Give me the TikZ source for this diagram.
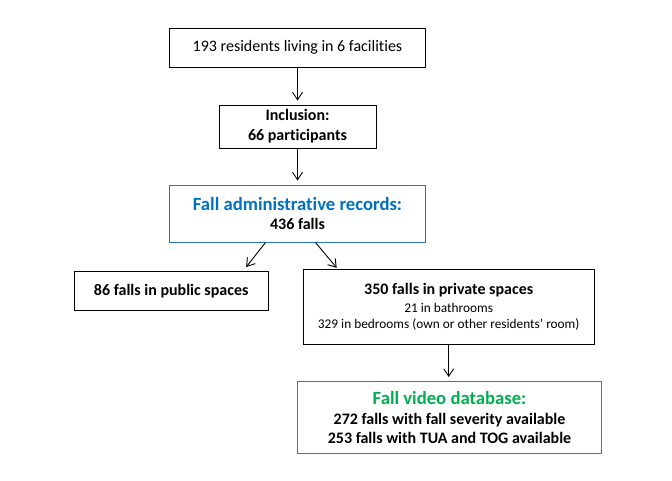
\documentclass[tikz,border=0pt]{standalone}
\usepackage{fontspec}
\setmainfont{Carlito}[RawFeature=-liga]
\usetikzlibrary{arrows.meta}
\definecolor{titleblue}{HTML}{0070C0}
\definecolor{borderblue}{HTML}{2E75B6}
\definecolor{titlegreen}{HTML}{00B050}
\definecolor{bordergreen}{HTML}{00A070}
\tikzset{
  box/.style={draw=black, line width=1pt, inner sep=0pt, align=center,
    font=\fontsize{16}{19.5}\selectfont},
  arr/.style={line width=0.9pt, -{Straight Barb[length=7.5pt,width=10pt,line width=0.9pt]}, shorten >=4pt},
}
\newcommand{\smalltxt}{\fontsize{13.33}{16}\selectfont}
\newcommand{\titletxt}{\fontsize{18.67}{20}\selectfont\bfseries}
\begin{document}
\begin{tikzpicture}[x=1pt,y=-1pt]
\useasboundingbox (0,0) rectangle (672,480);
\node[box, minimum width=256.7pt, minimum height=39pt] (b1) at (297.5,47.5)
  {193 residents living in 6 facilities};
\node[box, minimum width=157pt, minimum height=43pt, font=\fontsize{16}{20}\selectfont\bfseries] (b2) at (297.5,126.5)
  {Inclusion:\\66 participants};
\node[box, draw=borderblue, minimum width=256.5pt, minimum height=57pt] (b3) at (297.5,213.5)
  {{\titletxt\color{titleblue}Fall administrative records:}\\[0pt]\textbf{436 falls}};
\node[box, minimum width=194pt, minimum height=38.8pt, font=\fontsize{16}{19.5}\selectfont\bfseries] (b4) at (171.2,291.1)
  {86 falls in public spaces};
\node[box, minimum width=291pt, minimum height=74.7pt] (b5) at (448.7,306.7)
  {\textbf{350 falls in private spaces}\\[-2pt]{\smalltxt 21 in bathrooms}\\[-3.5pt]{\smalltxt 329 in bedrooms (own or other residents’ room)}};
\node[box, draw=bordergreen, minimum width=304.5pt, minimum height=71.7pt] (b6) at (449.5,417.4)
  {{\titletxt\color{titlegreen}Fall video database:}\\[0.5pt]\textbf{272 falls with fall severity available}\\[0pt]\textbf{253 falls with TUA and TOG available}};
\draw[arr] (b1.south) -- (b2.north);
\draw[arr] (b2.south) -- (b3.north);
\draw[arr] ([xshift=-32pt]b3.south) -- ([xshift=-25pt,yshift=1pt]b4.north east);
\draw[arr, shorten >=0pt] ([xshift=18pt]b3.south) -- ([xshift=34pt,yshift=1pt]b5.north west);
\draw[arr] (b5.south) -- (b5.south |- b6.north);
\end{tikzpicture}
\end{document}
